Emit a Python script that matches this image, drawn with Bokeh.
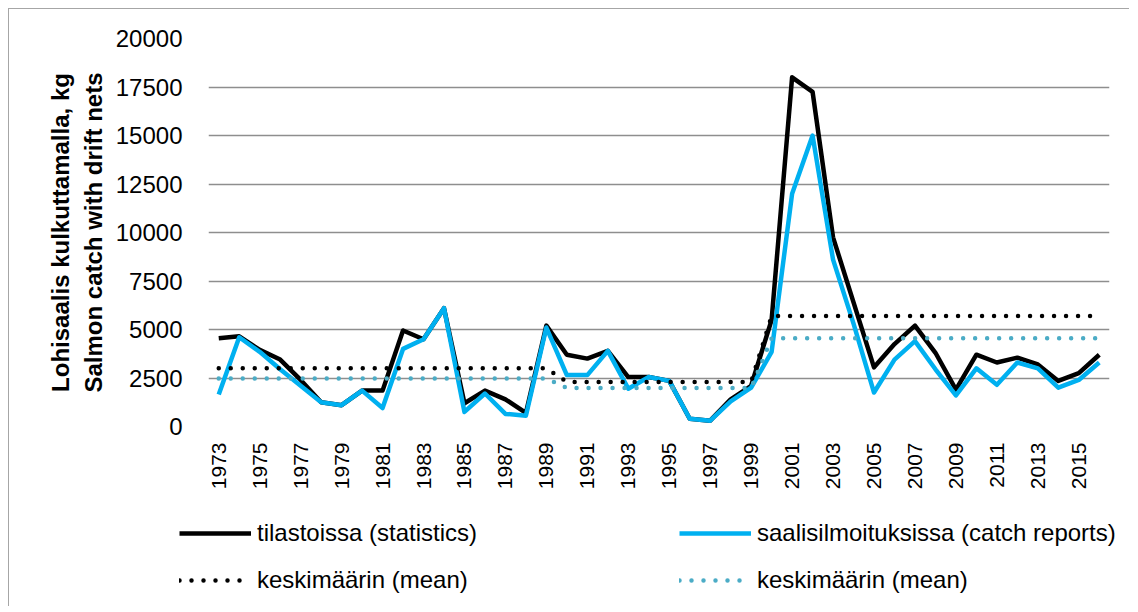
import math
from bokeh.plotting import figure
from bokeh.layouts import column
from bokeh.models import Range1d, FixedTicker, Legend, LegendItem, ColumnDataSource
from bokeh.embed import file_html
from bokeh.resources import INLINE

years = [1973, 1974, 1975, 1976, 1977, 1978, 1979, 1980, 1981, 1982, 1983,
         1984, 1985, 1986, 1987, 1988, 1989, 1990, 1991, 1992, 1993, 1994,
         1995, 1996, 1997, 1998, 1999, 2000, 2001, 2002, 2003, 2004, 2005,
         2006, 2007, 2008, 2009, 2010, 2011, 2012, 2013, 2014, 2015, 2016]

statistics = [4550, 4650, 3950, 3450, 2400, 1250, 1100, 1850, 1850, 4950, 4500,
              6100, 1200, 1850, 1400, 700, 5200, 3700, 3500, 3900, 2550, 2550,
              2350, 400, 300, 1400, 2100, 5500, 18000, 17250, 9750, 6400, 3050,
              4250, 5200, 3800, 1900, 3700, 3300, 3550, 3200, 2350, 2750, 3700]

catch_reports = [1650, 4600, 3850, 2950, 2100, 1250, 1100, 1850, 950, 4000, 4500,
                 6100, 750, 1700, 650, 560, 5100, 2650, 2650, 3900, 1950, 2550,
                 2350, 400, 300, 1300, 2000, 3850, 12000, 15000, 8600, 5300, 1750,
                 3450, 4400, 2950, 1600, 3000, 2150, 3300, 3000, 2000, 2400, 3300]

mean_statistics = [3000, 3000, 3000, 3000, 3000, 3000, 3000, 3000, 3000, 3000, 3000,
                   3000, 3000, 3000, 3000, 3000, 3000, 2300, 2300, 2300, 2300, 2300,
                   2300, 2300, 2300, 2300, 2300, 5700, 5700, 5700, 5700, 5700, 5700,
                   5700, 5700, 5700, 5700, 5700, 5700, 5700, 5700, 5700, 5700, 5700]

mean_catch_reports = [2480, 2480, 2480, 2480, 2480, 2480, 2480, 2480, 2480, 2480, 2480,
                      2480, 2480, 2480, 2480, 2480, 2480, 1980, 1980, 1980, 1980, 1980,
                      1980, 1980, 1980, 1980, 1980, 4550, 4550, 4550, 4550, 4550, 4550,
                      4550, 4550, 4550, 4550, 4550, 4550, 4550, 4550, 4550, 4550, 4550]

x_tick_years = [1973, 1975, 1977, 1979, 1981, 1983, 1985, 1987, 1989, 1991, 1993,
                1995, 1997, 1999, 2001, 2003, 2005, 2007, 2009, 2011, 2013, 2015]
y_ticks = [0, 2500, 5000, 7500, 10000, 12500, 15000, 17500, 20000]

label_stat = "tilastoissa (statistics)"
label_catch = "saalisilmoituksissa (catch reports)"
label_mean = "keskimäärin (mean)"
y_title = "Lohisaalis kulkuttamalla, kg\nSalmon catch with drift nets"

FONT = "Liberation Sans"
BLUE = "#00B0F0"
TEAL = "#4BACC6"
KEYS = ["stat", "catch", "mstat", "mcatch"]

styles = {
    "stat": dict(line_color="black", line_width=4.5, line_join="round"),
    "catch": dict(line_color=BLUE, line_width=4.5, line_join="round"),
    "mstat": dict(line_color="black", line_width=4.5, line_dash="0 12", line_cap="round"),
    "mcatch": dict(line_color=TEAL, line_width=4.5, line_dash="0 12", line_cap="round"),
}

src = ColumnDataSource(dict(year=years, stat=statistics, catch=catch_reports,
                            mstat=mean_statistics, mcatch=mean_catch_reports))

p = figure(frame_width=901, frame_height=388,
           x_range=Range1d(1972.5, 2016.5), y_range=Range1d(0, 20000),
           output_backend="svg", toolbar_location=None,
           min_border_left=199, min_border_top=29, min_border_right=20,
           min_border_bottom=70)
p.outline_line_color = None
p.background_fill_color = "white"
p.border_fill_color = "white"

p.xgrid.grid_line_color = None
p.ygrid.grid_line_color = "#8e8e8e"
p.ygrid.grid_line_width = 1.5

p.yaxis.ticker = FixedTicker(ticks=y_ticks)
p.yaxis.axis_line_color = None
p.yaxis.major_tick_line_color = None
p.yaxis.minor_tick_line_color = None
p.yaxis.major_tick_out = 0
p.yaxis.major_label_standoff = 26
p.yaxis.major_label_text_font = FONT
p.yaxis.major_label_text_font_size = "24px"
p.yaxis.major_label_text_color = "black"
p.yaxis.axis_label = y_title
p.yaxis.axis_label_text_font = FONT
p.yaxis.axis_label_text_font_size = "24px"
p.yaxis.axis_label_text_font_style = "bold"
p.yaxis.axis_label_text_color = "black"
p.yaxis.axis_label_standoff = 6

p.xaxis.ticker = FixedTicker(ticks=x_tick_years)
p.xaxis.axis_line_color = None
p.xaxis.major_tick_line_color = None
p.xaxis.minor_tick_line_color = None
p.xaxis.major_tick_out = 0
p.xaxis.major_label_standoff = 16
p.xaxis.major_label_orientation = math.pi / 2
p.xaxis.major_label_text_font = FONT
p.xaxis.major_label_text_font_size = "21px"
p.xaxis.major_label_text_color = "black"

for key in KEYS:
    p.line("year", key, source=src, **styles[key])

# legend strip below the chart (its own frame, so the legend is not clipped)
lf = figure(width=1120, height=110, x_range=Range1d(0, 1), y_range=Range1d(0, 1),
            output_backend="svg", toolbar_location=None,
            min_border=0, min_border_left=0, min_border_right=0,
            min_border_top=0, min_border_bottom=0)
if "frame_align" in lf.properties():
    lf.frame_align = False
lf.axis.visible = False
lf.grid.visible = False
lf.outline_line_color = None
lf.background_fill_color = "white"
lf.border_fill_color = "white"

# same series, outside this strip's view: only their legend samples show
lr = {key: lf.line("year", key, source=src, **styles[key]) for key in KEYS}

legend = Legend(items=[LegendItem(label=label_stat, renderers=[lr["stat"]]),
                       LegendItem(label=label_catch, renderers=[lr["catch"]]),
                       LegendItem(label=label_mean, renderers=[lr["mstat"]]),
                       LegendItem(label=label_mean, renderers=[lr["mcatch"]])],
                orientation="horizontal", ncols=2,
                location=(170, 3), spacing=0, padding=0, margin=0,
                glyph_width=72, glyph_height=20, label_standoff=6,
                label_width=422, label_height=47,
                border_line_color=None, background_fill_alpha=0,
                label_text_font=FONT, label_text_font_size="24px",
                label_text_color="black")
lf.add_layout(legend)

layout = column(p, lf, spacing=0)
layout.styles = {"margin-left": "8px", "margin-top": "8px",
                 "border-left": "1px solid #a6a6a6", "border-top": "1px solid #a6a6a6"}

open("out.html", "w").write(file_html(layout, INLINE))
